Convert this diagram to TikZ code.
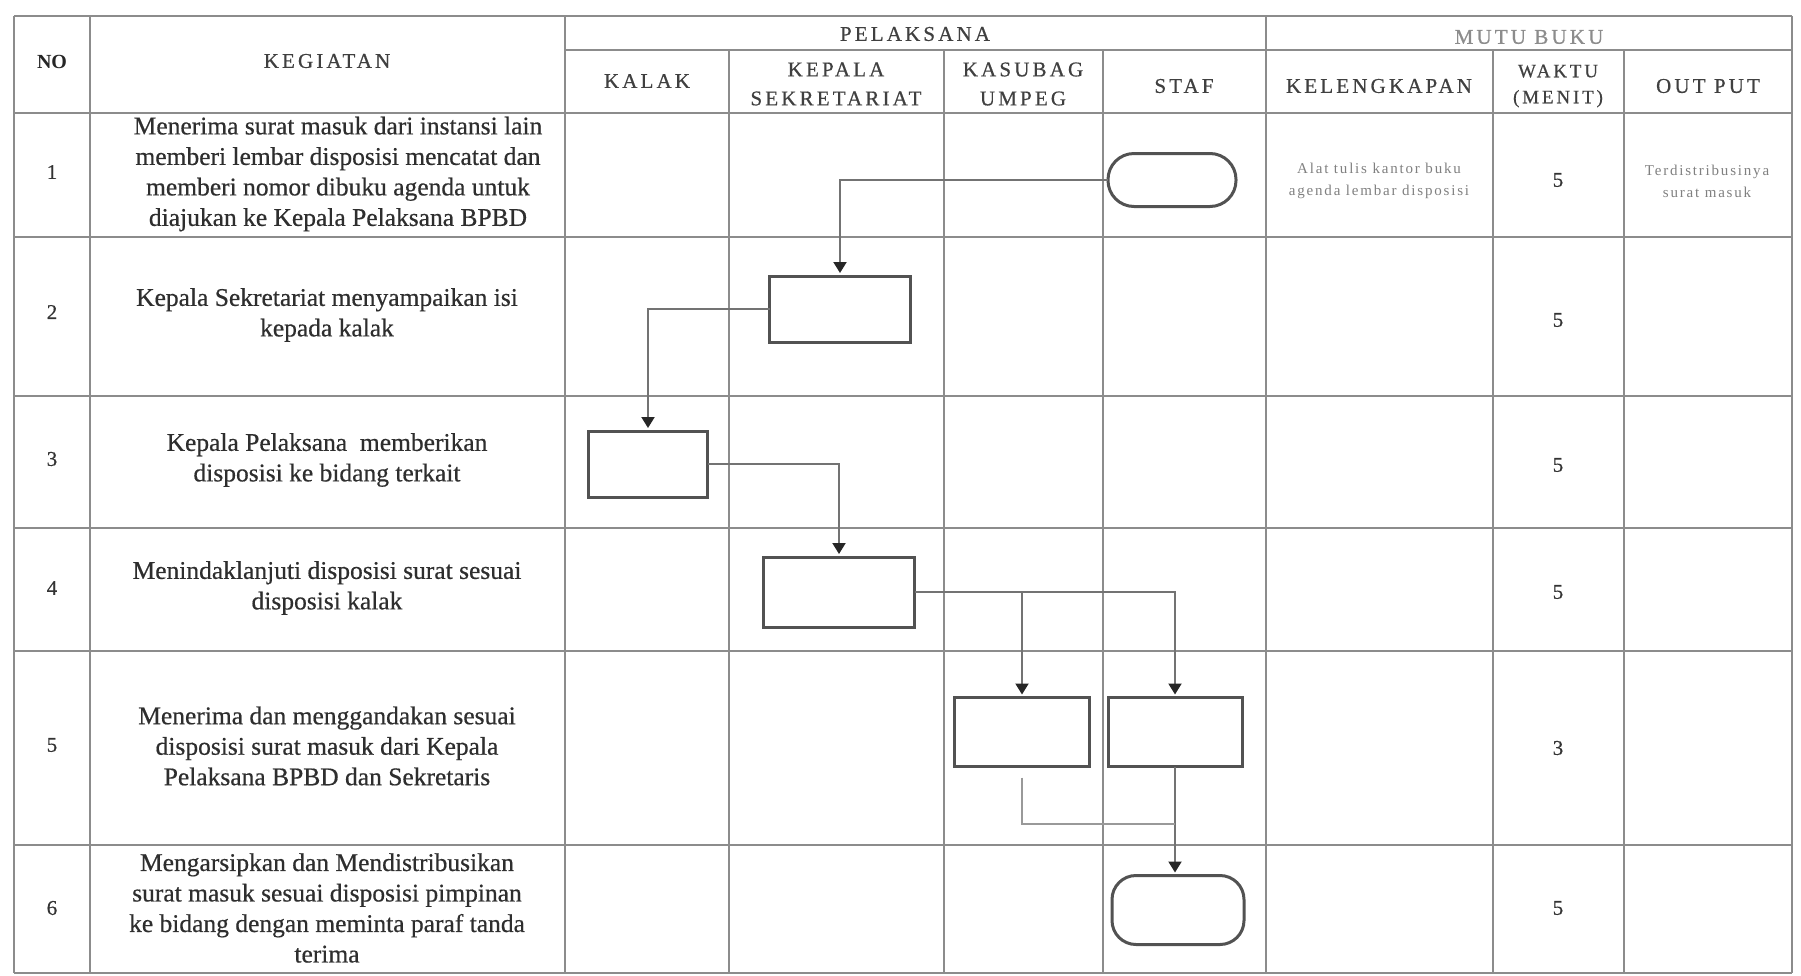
\documentclass[tikz,border=0pt]{standalone}
\usepackage{fontspec}
\setmainfont{Liberation Serif}
\newfontfamily\bodyfont[FakeBold=0.5]{Liberation Serif}
\newfontfamily\capsfont[LetterSpace=15,FakeBold=0.6]{Liberation Serif}
\newfontfamily\notefont[LetterSpace=12]{Liberation Serif}
\usetikzlibrary{arrows.meta,shapes.misc}

\begin{document}
\begin{tikzpicture}[x=1pt,y=-1pt,
  rule/.style={draw=black!45,line width=2.4pt},
  body/.style={align=center,inner sep=0pt,text=black!82,font=\bodyfont\fontsize{25.5}{30.5}\selectfont},
  head/.style={align=center,inner sep=0pt,text=black!75,font=\capsfont\fontsize{21}{29}\selectfont},
  note/.style={align=center,inner sep=0pt,text=black!50,font=\notefont\fontsize{15}{22}\selectfont},
  num/.style={inner sep=0pt,text=black!80,font=\bodyfont\fontsize{21}{25}\selectfont},
  stepbox/.style={draw=black!68,line width=3pt,fill=white,rectangle,inner sep=0pt,outer sep=0pt},
  termbox/.style={stepbox,rounded corners=#1},
  conn/.style={draw=black!55,line width=2pt},
  arr/.style={conn,-{Triangle[width=13pt,length=11pt,color=black!85]},shorten >=3pt}
]
% page
\fill[white] (0,0) rectangle (1801,975);
\useasboundingbox (0,0) rectangle (1801,975);

% table grid: horizontal rules
\foreach \yy in {16,113,237,396,528,651,845,973}
  \draw[rule] (14,\yy) -- (1792,\yy);
\draw[rule] (565,50) -- (1792,50);
% table grid: vertical rules
\foreach \xx in {14,90,565,1266,1792}
  \draw[rule] (\xx,16) -- (\xx,973);
\foreach \xx in {729,944,1103,1493,1624}
  \draw[rule] (\xx,50) -- (\xx,973);

% header
\node[inner sep=0pt,text=black!85,font=\bfseries\fontsize{20}{24}\selectfont] (hno) at (52,62) {NO};
\node[head] (hkeg)  at (327,61)  {KEGIATAN};
\node[head] (hpel)  at (915,34)  {PELAKSANA};
\node[head,text=black!45] (hmutu) at (1529,37) {MUTU BUKU};
\node[head] (hkalak) at (647,81) {KALAK};
\node[head] (hkep)  at (836,84)  {KEPALA\\SEKRETARIAT};
\node[head] (hkas)  at (1023,84) {KASUBAG\\UMPEG};
\node[head] (hstaf) at (1184,86) {STAF};
\node[head] (hkel)  at (1379,86) {KELENGKAPAN};
\node[head,font=\capsfont\fontsize{19}{26}\selectfont] (hwak) at (1558,86) {WAKTU\\(MENIT)};
\node[head] (hout)  at (1708,86) {OUT PUT};

% row numbers
\node[num] (n1) at (52,172) {1};
\node[num] (n2) at (52,312) {2};
\node[num] (n3) at (52,459) {3};
\node[num] (n4) at (52,588) {4};
\node[num] (n5) at (52,745) {5};
\node[num] (n6) at (52,908) {6};

% activities
\node[body] (k1) at (338,174) {Menerima surat masuk dari instansi lain\\memberi lembar disposisi mencatat dan\\memberi nomor dibuku agenda untuk\\diajukan ke Kepala Pelaksana BPBD};
\node[body] (k2) at (327,315) {Kepala Sekretariat menyampaikan isi\\kepada kalak};
\node[body] (k3) at (327,460) {Kepala Pelaksana \ memberikan\\disposisi ke bidang terkait};
\node[body] (k4) at (327,588) {Menindaklanjuti disposisi surat sesuai\\disposisi kalak};
\node[body] (k5) at (327,746) {Menerima dan menggandakan sesuai\\disposisi surat masuk dari Kepala\\Pelaksana BPBD dan Sekretaris};
\node[body] (k6) at (327,908) {Mengarsipkan dan Mendistribusikan\\surat masuk sesuai disposisi pimpinan\\ke bidang dengan meminta paraf tanda\\terima};

% quality columns
\node[note] (kel1) at (1379,181) {Alat tulis kantor buku\\agenda lembar disposisi};
\node[note] (out1) at (1707,181) {Terdistribusinya\\surat masuk};
\node[num] (w1) at (1558,180) {5};
\node[num] (w2) at (1558,320) {5};
\node[num] (w3) at (1558,465) {5};
\node[num] (w4) at (1558,592) {5};
\node[num] (w5) at (1558,748) {3};
\node[num] (w6) at (1558,908) {5};

% flow shapes
\node[termbox=26pt,minimum width=128pt,minimum height=53pt] (o1) at (1172,180) {};
\node[stepbox,minimum width=141pt,minimum height=66pt] (b2) at (840,309) {};
\node[stepbox,minimum width=119pt,minimum height=66pt] (b3) at (648,464) {};
\node[stepbox,minimum width=151pt,minimum height=70pt] (b4) at (839,592) {};
\node[stepbox,minimum width=135pt,minimum height=69pt] (b5a) at (1022,732) {};
\node[stepbox,minimum width=134pt,minimum height=69pt] (b5b) at (1175,732) {};
\node[termbox=24pt,minimum width=132pt,minimum height=69pt] (o6) at (1178,910) {};

% connectors
\draw[arr] (o1.west) -| (b2.north);
\draw[arr] (b2.west) -| (b3.north);
\draw[arr] (b3.east) -| (b4.north);
\draw[arr] (b4.east) -| (b5b.north);
\coordinate (split) at (b5a.north |- b4.east);
\draw[arr] (split) -- (b5a.north);
\draw[arr] (b5b.south) -- (b5b.south |- o6.north);
\coordinate (merge) at (b5b.south |- 0,824);
\coordinate (b5aout) at ([yshift=-11pt]b5a.south);
\draw[conn,draw=black!40] (b5aout) |- (merge);
\end{tikzpicture}
\end{document}
